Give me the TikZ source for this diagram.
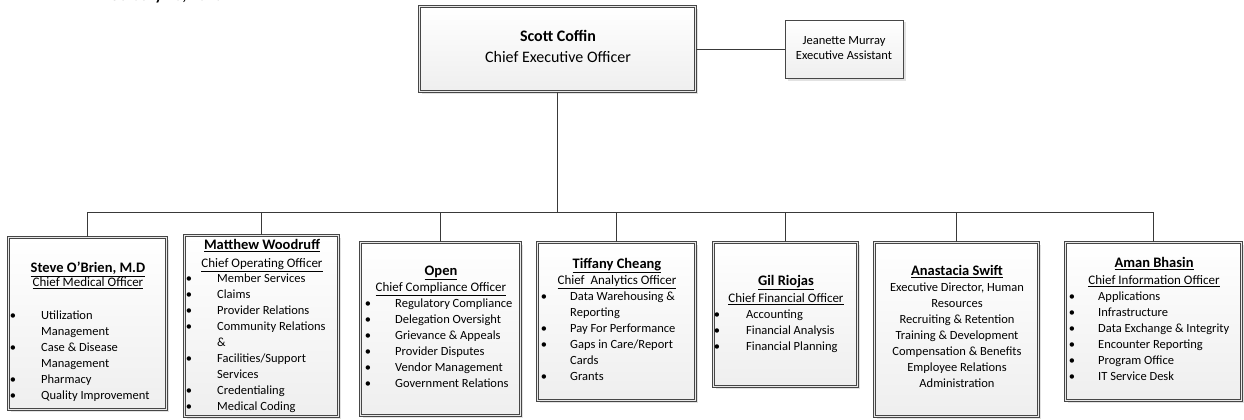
\documentclass[tikz,border=0pt]{standalone}
\usepackage{fontspec}
\setmainfont{Carlito}
\usetikzlibrary{shadows}

% one text line per node: bullets on the listed rows, 16pt line pitch
\newcommand\orglist[6]{%
  \foreach \lineitem [count=\i] in {#6}{%
    \node[body, anchor=mid west] (#1-t\i) at (#3, {#4+16*(\i-1)}) {\lineitem};}%
  \foreach \k in {#5}{%
    \node[body, anchor=mid] (#1-b\k) at (#2, {#4+16*(\k-1)}) {\textbullet};}%
}
\newcommand\orgcentered[4]{%
  \foreach \lineitem [count=\i] in {#4}{%
    \node[body, anchor=mid] (#1-t\i) at (#2, {#3+16*(\i-1)}) {\lineitem};}%
}

\begin{document}
\begin{tikzpicture}[x=1pt,y=-1pt,
  boxshadow/.style={drop shadow={shadow xshift=2.5pt, shadow yshift=-2.5pt, fill=gray!45}},
  orgbox/.style={draw=gray!55!black, line width=0.6pt, double=gray!18, double distance=1.6pt,
    top color=white, bottom color=gray!13, boxshadow, inner sep=0pt},
  plainbox/.style={draw=gray!55!black, line width=0.8pt,
    top color=white, bottom color=gray!13, boxshadow, inner sep=0pt},
  link/.style={draw=gray!45!black, line width=0.8pt},
  namefont/.style={font=\fontsize{14.5}{16}\selectfont\bfseries, inner sep=0pt, anchor=mid},
  rolefont/.style={font=\fontsize{13}{16}\selectfont, inner sep=0pt, anchor=mid},
  body/.style={font=\fontsize{12.5}{16}\selectfont, inner sep=0pt},
]
\useasboundingbox (0,0) rectangle (1244,420);

% date line at the top of the sheet
\node[font=\fontsize{16}{16}\selectfont\bfseries, anchor=base west, inner sep=0pt] (date) at (103,1) {February 20, 2020};

% boxes
\node[orgbox, minimum width=276pt, minimum height=85pt] (ceo) at (557.5,49) {};
\node[plainbox, minimum width=118pt, minimum height=58pt] (asst) at (844,49) {};
\node[orgbox, minimum width=158pt, minimum height=172pt] (steve) at (87.5,323.5) {};
\node[orgbox, minimum width=154pt, minimum height=181pt] (matt) at (261.5,326) {};
\node[orgbox, minimum width=160pt, minimum height=173pt] (open) at (440.5,329) {};
\node[orgbox, minimum width=158pt, minimum height=158pt] (tiff) at (616.5,321.5) {};
\node[orgbox, minimum width=144pt, minimum height=144pt] (gil) at (785.5,314.5) {};
\node[orgbox, minimum width=164pt, minimum height=174pt] (ana) at (956.5,329.5) {};
\node[orgbox, minimum width=176pt, minimum height=158pt] (aman) at (1153.5,321.5) {};

% connectors
\coordinate (bus) at (557.5,212);
\draw[link] (ceo.south) -- (bus);
\draw[link] (ceo.east) -- (asst.west);
\draw[link] (steve.north |- bus) -- (aman.north |- bus);
\foreach \b in {steve,matt,open,tiff,gil,ana,aman}
  \draw[link] (\b.north |- bus) -- (\b.north);

% chief executive and assistant
\node[font=\fontsize{16}{18}\selectfont\bfseries, inner sep=0pt, anchor=mid] (ceo-name) at (558,39) {Scott Coffin};
\node[font=\fontsize{16}{18}\selectfont, inner sep=0pt, anchor=mid] (ceo-role) at (558,60) {Chief Executive Officer};
\node[body, anchor=mid] (asst-name) at (844,42) {Jeanette Murray};
\node[body, anchor=mid] (asst-role) at (844,57) {Executive Assistant};

% medical
\node[namefont] (steve-name) at (88,270) {\underline{Steve O'Brien, M.D}};
\node[rolefont] (steve-role) at (88,284) {\underline{Chief Medical Officer}};
\orglist{steve}{13}{41}{317}{1,3,5,6}{Utilization,Management,Case \& Disease,Management,Pharmacy,Quality Improvement}

% operations
\node[namefont] (matt-name) at (262,247) {\underline{Matthew Woodruff}};
\node[rolefont] (matt-role) at (262,265) {\underline{Chief Operating Officer}};
\orglist{matt}{189}{217}{280}{1,2,3,4,6,8,9}{Member Services,Claims,Provider Relations,Community Relations,\&,Facilities/Support,Services,Credentialing,Medical Coding}

% compliance
\node[namefont] (open-name) at (441,273) {\underline{Open}};
\node[rolefont] (open-role) at (441,289) {\underline{Chief Compliance Officer}};
\orglist{open}{368}{395}{305}{1,2,3,4,5,6}{Regulatory Compliance,Delegation Oversight,Grievance \& Appeals,Provider Disputes,Vendor Management,Government Relations}

% analytics
\node[namefont] (tiff-name) at (617,266) {\underline{Tiffany Cheang}};
\node[rolefont] (tiff-role) at (617,282) {\underline{Chief\ \ Analytics Officer}};
\orglist{tiff}{544}{570}{298}{1,3,4,6}{Data Warehousing \&,Reporting,Pay For Performance,Gaps in Care/Report,Cards,Grants}

% finance
\node[namefont] (gil-name) at (786,283) {\underline{Gil Riojas}};
\node[rolefont] (gil-role) at (786,300) {\underline{Chief Financial Officer}};
\orglist{gil}{717}{746}{316}{1,2,3}{Accounting,Financial Analysis,Financial Planning}

% human resources
\node[namefont] (ana-name) at (957,273) {\underline{Anastacia Swift}};
\orgcentered{ana}{957}{289}{{Executive Director, Human},Resources,Recruiting \& Retention,Training \& Development,Compensation \& Benefits,Employee Relations,Administration}

% information
\node[namefont] (aman-name) at (1154,265) {\underline{Aman Bhasin}};
\node[rolefont] (aman-role) at (1154,282) {\underline{Chief Information Officer}};
\orglist{aman}{1072}{1098}{298}{1,2,3,4,5,6}{Applications,Infrastructure,Data Exchange \& Integrity,Encounter Reporting,Program Office,IT Service Desk}

\end{tikzpicture}
\end{document}
